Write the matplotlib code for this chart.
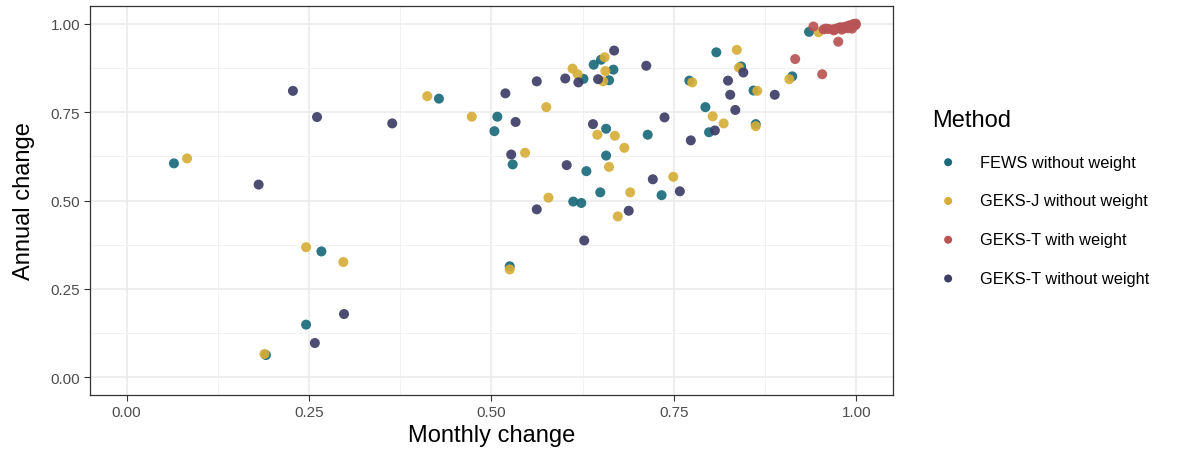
import matplotlib
matplotlib.use("Agg")
import matplotlib.pyplot as plt
from matplotlib.ticker import MultipleLocator, FormatStrFormatter

plt.rcParams['font.family'] = ['Liberation Sans', 'DejaVu Sans']

methods = ["FEWS without weight", "GEKS-J without weight",
           "GEKS-T with weight", "GEKS-T without weight"]
colors = ["#1b6a7b", "#d6ae38", "#b95456", "#3e3d66"]

fews_x = [0.065, 0.267, 0.246, 0.191, 0.428, 0.508, 0.504, 0.529, 0.525,
          0.612, 0.623, 0.630, 0.649, 0.657, 0.657, 0.640, 0.650, 0.667,
          0.626, 0.661, 0.714, 0.733, 0.808, 0.771, 0.842, 0.859, 0.912,
          0.793, 0.798, 0.862, 0.935]
fews_y = [0.605, 0.356, 0.149, 0.063, 0.788, 0.737, 0.696, 0.602, 0.314,
          0.497, 0.493, 0.583, 0.523, 0.703, 0.627, 0.884, 0.898, 0.870,
          0.844, 0.840, 0.686, 0.515, 0.919, 0.839, 0.879, 0.811, 0.851,
          0.764, 0.693, 0.716, 0.977]

gj_x = [0.083, 0.246, 0.297, 0.189, 0.412, 0.473, 0.575, 0.546, 0.611,
        0.618, 0.655, 0.656, 0.653, 0.645, 0.669, 0.682, 0.661, 0.578,
        0.690, 0.673, 0.749, 0.525, 0.836, 0.839, 0.775, 0.864, 0.908,
        0.803, 0.818, 0.862, 0.948]
gj_y = [0.619, 0.368, 0.326, 0.066, 0.795, 0.737, 0.764, 0.635, 0.873,
        0.857, 0.905, 0.866, 0.837, 0.686, 0.683, 0.649, 0.595, 0.508,
        0.523, 0.455, 0.567, 0.305, 0.926, 0.876, 0.834, 0.810, 0.843,
        0.738, 0.718, 0.710, 0.976]

gtw_x = [0.941, 0.916, 0.953, 0.975, 0.955, 0.968, 0.976, 0.983, 0.987,
         0.992, 0.996, 0.999, 0.994, 0.958, 0.969, 0.978, 0.985, 0.990,
         0.997, 0.980, 0.988, 0.993, 0.998, 0.962, 0.972, 0.981, 0.986,
         0.991, 0.995, 0.999]
gtw_y = [0.992, 0.900, 0.857, 0.949, 0.984, 0.984, 0.988, 0.990, 0.990,
         0.993, 0.997, 1.000, 0.986, 0.986, 0.981, 0.990, 0.990, 0.995,
         0.999, 0.983, 0.987, 0.991, 0.996, 0.985, 0.986, 0.988, 0.992,
         0.994, 0.998, 0.997]

gt_x = [0.228, 0.261, 0.181, 0.298, 0.258, 0.364, 0.519, 0.533, 0.527,
        0.562, 0.601, 0.619, 0.646, 0.668, 0.712, 0.639, 0.737, 0.603,
        0.721, 0.562, 0.627, 0.688, 0.758, 0.845, 0.824, 0.827, 0.888,
        0.834, 0.806, 0.773]
gt_y = [0.810, 0.736, 0.545, 0.179, 0.097, 0.718, 0.803, 0.722, 0.630,
        0.837, 0.845, 0.834, 0.843, 0.924, 0.881, 0.716, 0.735, 0.600,
        0.560, 0.475, 0.387, 0.471, 0.526, 0.862, 0.839, 0.799, 0.799,
        0.756, 0.698, 0.670]

series = [(fews_x, fews_y), (gj_x, gj_y), (gtw_x, gtw_y), (gt_x, gt_y)]

fig = plt.figure(figsize=(11.81, 4.56), dpi=100)
ax = fig.add_axes([90/1181, 1-396/456, (893-90)/1181, (396-7)/456])

for (xs, ys), m, c in zip(series, methods, colors):
    ax.scatter(xs, ys, s=52, color=c, alpha=0.92, edgecolors='none',
               label=m, zorder=3)

ax.set_xlim(-0.05, 1.05)
ax.set_ylim(-0.05, 1.05)
ax.xaxis.set_major_locator(MultipleLocator(0.25))
ax.yaxis.set_major_locator(MultipleLocator(0.25))
ax.xaxis.set_minor_locator(MultipleLocator(0.125))
ax.yaxis.set_minor_locator(MultipleLocator(0.125))
ax.grid(which='major', color='#ebebeb', linewidth=1.2, zorder=0)
ax.grid(which='minor', color='#f2f2f2', linewidth=0.7, zorder=0)
ax.set_axisbelow(True)
ax.tick_params(which='minor', length=0)
ax.tick_params(which='major', length=4, width=0.8, color='#333333',
               labelsize=11, labelcolor='#4d4d4d', pad=3)
ax.xaxis.set_major_formatter(FormatStrFormatter('%.2f'))
ax.yaxis.set_major_formatter(FormatStrFormatter('%.2f'))
for sp in ax.spines.values():
    sp.set_color('#333333')
    sp.set_linewidth(0.9)

ax.set_xlabel("Monthly change", fontsize=17, labelpad=4)
ax.set_ylabel("Annual change", fontsize=17, labelpad=11)

leg = fig.legend(loc='upper left', bbox_to_anchor=(917/1181, 1-95/456),
                 frameon=False, title="Method", fontsize=11.8,
                 title_fontsize=17, markerscale=0.8, handletextpad=0.95,
                 labelspacing=1.45, alignment='left', scatterpoints=1)
for h in leg.legend_handles:
    h.set_alpha(1)

fig.savefig("out.png", dpi=100)
